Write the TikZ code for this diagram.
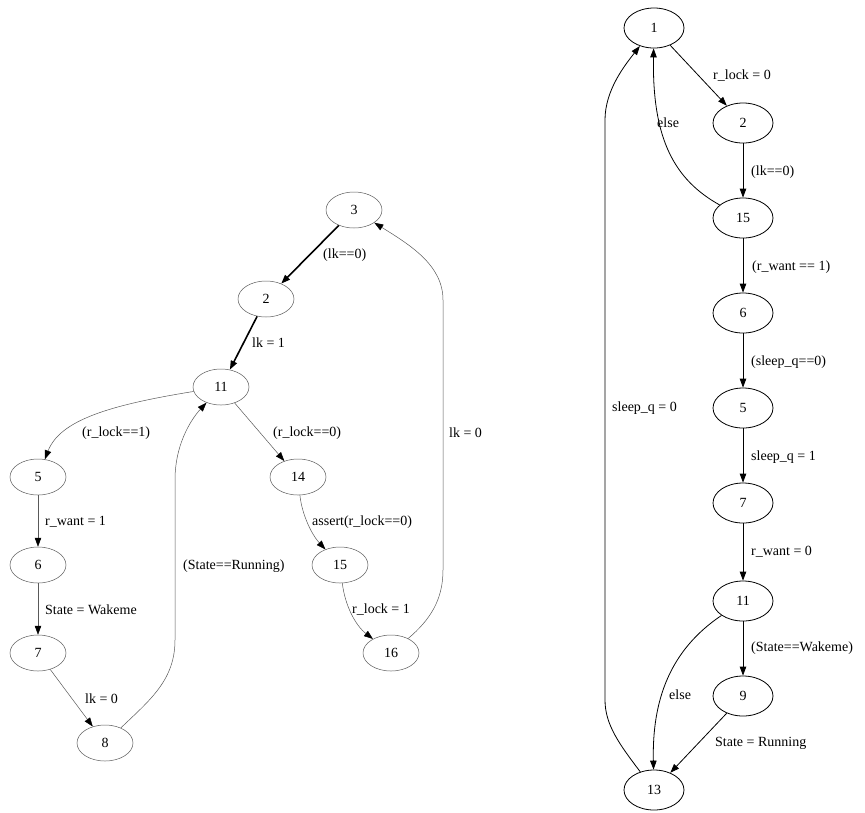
\documentclass[tikz,border=0pt]{standalone}
\usepackage{fontspec}
\setmainfont{Liberation Serif}
\usetikzlibrary{shapes.geometric,arrows.meta}
\begin{document}
\begin{tikzpicture}[x=1pt,y=-1pt,
  every node/.style={font=\fontsize{14}{16}\selectfont},
  lnode/.style={ellipse,draw=black!65,line width=0.5pt,minimum width=56pt,minimum height=36pt,inner sep=0pt},
  rnode/.style={ellipse,draw=black,line width=0.8pt,minimum width=60pt,minimum height=40pt,inner sep=0pt},
  ledge/.style={draw=black!65,line width=0.5pt,-{Triangle[length=9pt,width=6.5pt,fill=black,color=black]}},
  tedge/.style={draw=black,line width=1.6pt,-{Triangle[length=9pt,width=6.5pt]}},
  redge/.style={draw=black,line width=0.8pt,-{Triangle[length=9pt,width=6.5pt]}},
  lab/.style={anchor=west,inner sep=0pt}]
\useasboundingbox (0,0) rectangle (865,812);
% left graph nodes
\node[lnode] (l3) at (354,210) {3};
\node[lnode] (l2) at (266,299) {2};
\node[lnode] (l11) at (221,387) {11};
\node[lnode] (l5) at (38,477) {5};
\node[lnode] (l14) at (298,477) {14};
\node[lnode] (l6) at (38,565) {6};
\node[lnode] (l15) at (340,565) {15};
\node[lnode] (l7) at (38,653) {7};
\node[lnode] (l16) at (391,653) {16};
\node[lnode] (l8) at (105,743) {8};
% left edges
\draw[tedge] (l3) -- (l2);
\draw[tedge] (l2) -- (l11);
\draw[ledge] (l11) .. controls (110,405) and (60,420) .. (l5);
\draw[ledge] (l11) -- (l14);
\draw[ledge] (l5) -- (l6);
\draw[ledge] (l6) -- (l7);
\draw[ledge] (l7) -- (l8);
\draw[ledge] (l8) .. controls (150,700) and (175,680) .. (175,640) -- (175,480) .. controls (175,440) and (195,415) .. (l11);
\draw[ledge] (l14) .. controls (302,515) and (312,535) .. (l15);
\draw[ledge] (l15) .. controls (345,605) and (355,625) .. (l16);
\draw[ledge] (l16) .. controls (430,620) and (443,600) .. (443,570) -- (443,300) .. controls (443,265) and (410,245) .. (l3);
% left labels
\node[lab] (t1) at (323,255) {(lk==0)};
\node[lab] (t2) at (252,343) {lk = 1};
\node[lab] (t3) at (82,433) {(r\_lock==1)};
\node[lab] (t4) at (273,433) {(r\_lock==0)};
\node[lab] (t5) at (45,522) {r\_want = 1};
\node[lab] (t6) at (45,610) {State = Wakeme};
\node[lab] (t7) at (85,699) {lk = 0};
\node[lab] (t8) at (183,566) {(State==Running)};
\node[lab] (t9) at (312,522) {assert(r\_lock==0)};
\node[lab] (t10) at (352,610) {r\_lock = 1};
\node[lab] (t11) at (449,433) {lk = 0};
% right graph nodes
\node[rnode] (r1) at (654,28) {1};
\node[rnode] (r2) at (743,123) {2};
\node[rnode] (r15) at (743,218) {15};
\node[rnode] (r6) at (743,313) {6};
\node[rnode] (r5) at (743,408) {5};
\node[rnode] (r7) at (743,503) {7};
\node[rnode] (r11) at (743,601) {11};
\node[rnode] (r9) at (743,696) {9};
\node[rnode] (r13) at (654,790) {13};
% right edges
\draw[redge] (r1) -- (r2);
\draw[redge] (r2) -- (r15);
\draw[redge] (r15) .. controls (675,180) and (652,140) .. (r1);
\draw[redge] (r15) -- (r6);
\draw[redge] (r6) -- (r5);
\draw[redge] (r5) -- (r7);
\draw[redge] (r7) -- (r11);
\draw[redge] (r11) -- (r9);
\draw[redge] (r11) .. controls (670,650) and (652,700) .. (r13);
\draw[redge] (r9) -- (r13);
\draw[redge] (r13) .. controls (620,745) and (605,725) .. (605,700) -- (605,120) .. controls (605,90) and (625,65) .. (r1);
% right labels
\node[lab] (s1) at (713,76) {r\_lock = 0};
\node[lab] (s2) at (751,172) {(lk==0)};
\node[lab] (s3) at (657,123) {else};
\node[lab] (s4) at (752,267) {(r\_want == 1)};
\node[lab] (s5) at (751,362) {(sleep\_q==0)};
\node[lab] (s6) at (751,457) {sleep\_q = 1};
\node[lab] (s7) at (751,552) {r\_want = 0};
\node[lab] (s8) at (751,648) {(State==Wakeme)};
\node[lab] (s9) at (669,695) {else};
\node[lab] (s10) at (715,743) {State = Running};
\node[lab] (s11) at (612,408) {sleep\_q = 0};
\end{tikzpicture}
\end{document}
